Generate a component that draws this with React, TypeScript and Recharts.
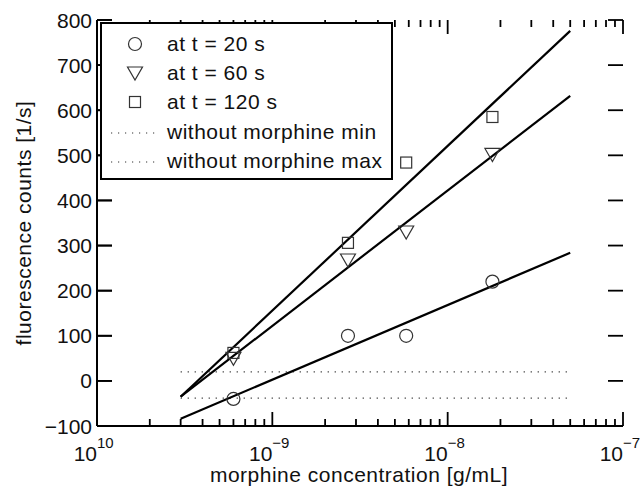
import { ComposedChart, Label, Legend, Line, ReferenceLine, Scatter, XAxis, YAxis } from "recharts";

const concentrations = [6.0e-10, 2.7e-9, 5.8e-9, 1.8e-8];
const counts20 = [-40, 100, 100, 220];
const counts60 = [50, 268, 330, 502];
const counts120 = [62, 306, 484, 585];

const fitRange = [3e-10, 5e-8];
const fit20 = [-84, 284];
const fit60 = [-35, 632];
const fit120 = [-35, 776];

const baselineMin = [-38, -38];
const baselineMax = [20, 20];

const decades = [1e-10, 1e-9, 1e-8, 1e-7];
const decadeLabels = ["10", "\u22129", "\u22128", "\u22127"];
const minorSteps = [2, 3, 4, 5, 6, 7, 8, 9];
const yTicks = [-100, 0, 100, 200, 300, 400, 500, 600, 700, 800];

const legendItems = [
  { label: "at t = 20 s", kind: "circle" },
  { label: "at t = 60 s", kind: "triangle" },
  { label: "at t = 120 s", kind: "square" },
  { label: "without morphine min", kind: "dots" },
  { label: "without morphine max", kind: "dots" },
];

const FONT = '"Liberation Sans", Arial, Helvetica, sans-serif';
const MARK = "#333";
const INK = "#111";
const FRAME = { stroke: "#000", strokeWidth: 2 };

const pts = (xs: number[], ys: number[]) => xs.map((x, i) => ({ x, y: ys[i] }));

const minorTicks = decades.slice(0, 3).flatMap((d) => minorSteps.map((m) => m * d));

const decadeIndex = (v: number) =>
  decades.findIndex((d) => Math.abs(Math.log10(d) - Math.log10(v)) < 1e-6);

// inward tick marks on the top and bottom edges
const xMarks = (len: number) => (p: any) => {
  const top = Math.min(Number(p.y1), Number(p.y2));
  const bottom = Math.max(Number(p.y1), Number(p.y2));
  const x = Number(p.x1);
  return (
    <g>
      <line x1={x} x2={x} y1={top} y2={top + len} stroke="#000" strokeWidth={1.8} />
      <line x1={x} x2={x} y1={bottom} y2={bottom - len} stroke="#000" strokeWidth={1.8} />
    </g>
  );
};

// inward tick marks on the left and right edges
const yMarks = (p: any) => {
  const left = Math.min(Number(p.x1), Number(p.x2));
  const right = Math.max(Number(p.x1), Number(p.x2));
  const y = Number(p.y1);
  return (
    <g>
      <line x1={left} x2={left + 15} y1={y} y2={y} stroke="#000" strokeWidth={1.8} />
      <line x1={right} x2={right - 15} y1={y} y2={y} stroke="#000" strokeWidth={1.8} />
    </g>
  );
};

function BottomTick({ x, y, payload }: any) {
  const i = decadeIndex(payload.value);
  if (i < 0) return <g />;
  return (
    <g>
      <text x={x} y={y + 35} textAnchor="end" fontFamily={FONT} fontSize={21} fill={INK}>
        10
      </text>
      <text x={x} y={y + 22} fontFamily={FONT} fontSize={15} fill={INK}>
        {decadeLabels[i]}
      </text>
    </g>
  );
}

function LeftTick({ x, y, payload }: any) {
  const v = payload.value;
  const px = Number(x);
  const py = Number(y);
  return (
    <g>
      <line x1={px} x2={px + 15} y1={py} y2={py} stroke="#000" strokeWidth={1.8} />
      <text x={px - 5} y={py + 7.5} textAnchor="end" fontFamily={FONT} fontSize={21} fill={INK}>
        {v < 0 ? `\u2212${-v}` : v}
      </text>
    </g>
  );
}

const Circle = ({ cx, cy }: any) => <circle cx={cx} cy={cy} r={6.5} fill="none" stroke={MARK} strokeWidth={1.2} />;
const Triangle = ({ cx, cy }: any) => (
  <path d={`M${cx - 7.5},${cy - 6} L${cx + 7.5},${cy - 6} L${cx},${cy + 7} Z`} fill="none" stroke={MARK} strokeWidth={1.2} />
);
const Square = ({ cx, cy }: any) => (
  <rect x={cx - 5.5} y={cy - 5.5} width={11} height={11} fill="none" stroke={MARK} strokeWidth={1.2} />
);

function LegendMarker({ kind }: { kind: string }) {
  return (
    <svg width={46} height={20} style={{ display: "block" }}>
      {kind === "circle" && <Circle cx={25} cy={10} />}
      {kind === "triangle" && <Triangle cx={25} cy={10} />}
      {kind === "square" && <Square cx={25} cy={10} />}
      {kind === "dots" && <line x1={1} x2={46} y1={11} y2={11} stroke={MARK} strokeWidth={1.2} strokeDasharray="1.2 5.8" />}
    </svg>
  );
}

function LegendBox() {
  return (
    <div
      style={{
        border: "2px solid #000",
        background: "#fff",
        fontFamily: FONT,
        fontSize: 21,
        color: INK,
        padding: "5px 0 2px 8px",
        width: 293,
        boxSizing: "border-box",
      }}
    >
      {legendItems.map((it) => (
        <div key={it.label} style={{ display: "flex", alignItems: "center", height: 29.4 }}>
          <LegendMarker kind={it.kind} />
          <span style={{ marginLeft: 11, whiteSpace: "nowrap", letterSpacing: 0.5 }}>{it.label}</span>
        </div>
      ))}
    </div>
  );
}

const logAxis = {
  dataKey: "x",
  type: "number" as const,
  scale: "log" as const,
  domain: [1e-10, 1e-7],
  allowDataOverflow: true,
};

export default function App() {
  return (
    <div style={{ position: "absolute", left: 0, top: 0 }}>
      <ComposedChart width={643} height={489} margin={{ top: 20, right: 20, left: 0, bottom: 0 }}>
        <XAxis
          {...logAxis}
          ticks={decades}
          interval={0}
          height={63}
          tickSize={0}
          tickMargin={0}
          tickLine={false}
          tick={<BottomTick />}
          axisLine={FRAME}
        >
          <Label
            content={() => (
              <text x={359} y={482} textAnchor="middle" fontFamily={FONT} fontSize={21} fill={INK} letterSpacing={0.5}>
                morphine concentration [g/mL]
              </text>
            )}
          />
        </XAxis>
        <XAxis {...logAxis} xAxisId="top" orientation="top" height={0} tick={false} tickLine={false} axisLine={FRAME} />
        <YAxis
          type="number"
          domain={[-100, 800]}
          ticks={yTicks}
          interval={0}
          width={97}
          tickSize={0}
          tickMargin={0}
          tickLine={false}
          tick={<LeftTick />}
          axisLine={FRAME}
        >
          <Label
            content={() => (
              <text
                x={0}
                y={0}
                transform="translate(31,223) rotate(-90)"
                textAnchor="middle"
                fontFamily={FONT}
                fontSize={21}
                fill={INK}
                letterSpacing={0.5}
              >
                fluorescence counts [1/s]
              </text>
            )}
          />
        </YAxis>
        <YAxis
          yAxisId="right"
          orientation="right"
          type="number"
          domain={[-100, 800]}
          width={0}
          tick={false}
          tickLine={false}
          axisLine={FRAME}
        />

        {decades.map((d) => (
          <ReferenceLine key={`M${d}`} x={d} ifOverflow="visible" shape={xMarks(14)} />
        ))}
        {minorTicks.map((d) => (
          <ReferenceLine key={`m${d}`} x={d} ifOverflow="visible" shape={xMarks(7)} />
        ))}
        {yTicks.map((v) => (
          <ReferenceLine key={`y${v}`} y={v} ifOverflow="visible" shape={yMarks} />
        ))}

        <Line data={pts(fitRange, baselineMin)} dataKey="y" stroke={MARK} strokeWidth={1.2} strokeDasharray="1.2 5.8" dot={false} isAnimationActive={false} />
        <Line data={pts(fitRange, baselineMax)} dataKey="y" stroke={MARK} strokeWidth={1.2} strokeDasharray="1.2 5.8" dot={false} isAnimationActive={false} />
        <Line data={pts(fitRange, fit20)} dataKey="y" stroke="#000" strokeWidth={2.2} dot={false} isAnimationActive={false} />
        <Line data={pts(fitRange, fit60)} dataKey="y" stroke="#000" strokeWidth={2.2} dot={false} isAnimationActive={false} />
        <Line data={pts(fitRange, fit120)} dataKey="y" stroke="#000" strokeWidth={2.2} dot={false} isAnimationActive={false} />

        <Scatter data={pts(concentrations, counts20)} dataKey="y" shape={<Circle />} isAnimationActive={false} />
        <Scatter data={pts(concentrations, counts60)} dataKey="y" shape={<Triangle />} isAnimationActive={false} />
        <Scatter data={pts(concentrations, counts120)} dataKey="y" shape={<Square />} isAnimationActive={false} />

        <Legend
          layout="horizontal"
          verticalAlign="middle"
          align="center"
          content={() => <LegendBox />}
          wrapperStyle={{ left: 100, top: 22, width: 294, height: 156 }}
        />
      </ComposedChart>
    </div>
  );
}
